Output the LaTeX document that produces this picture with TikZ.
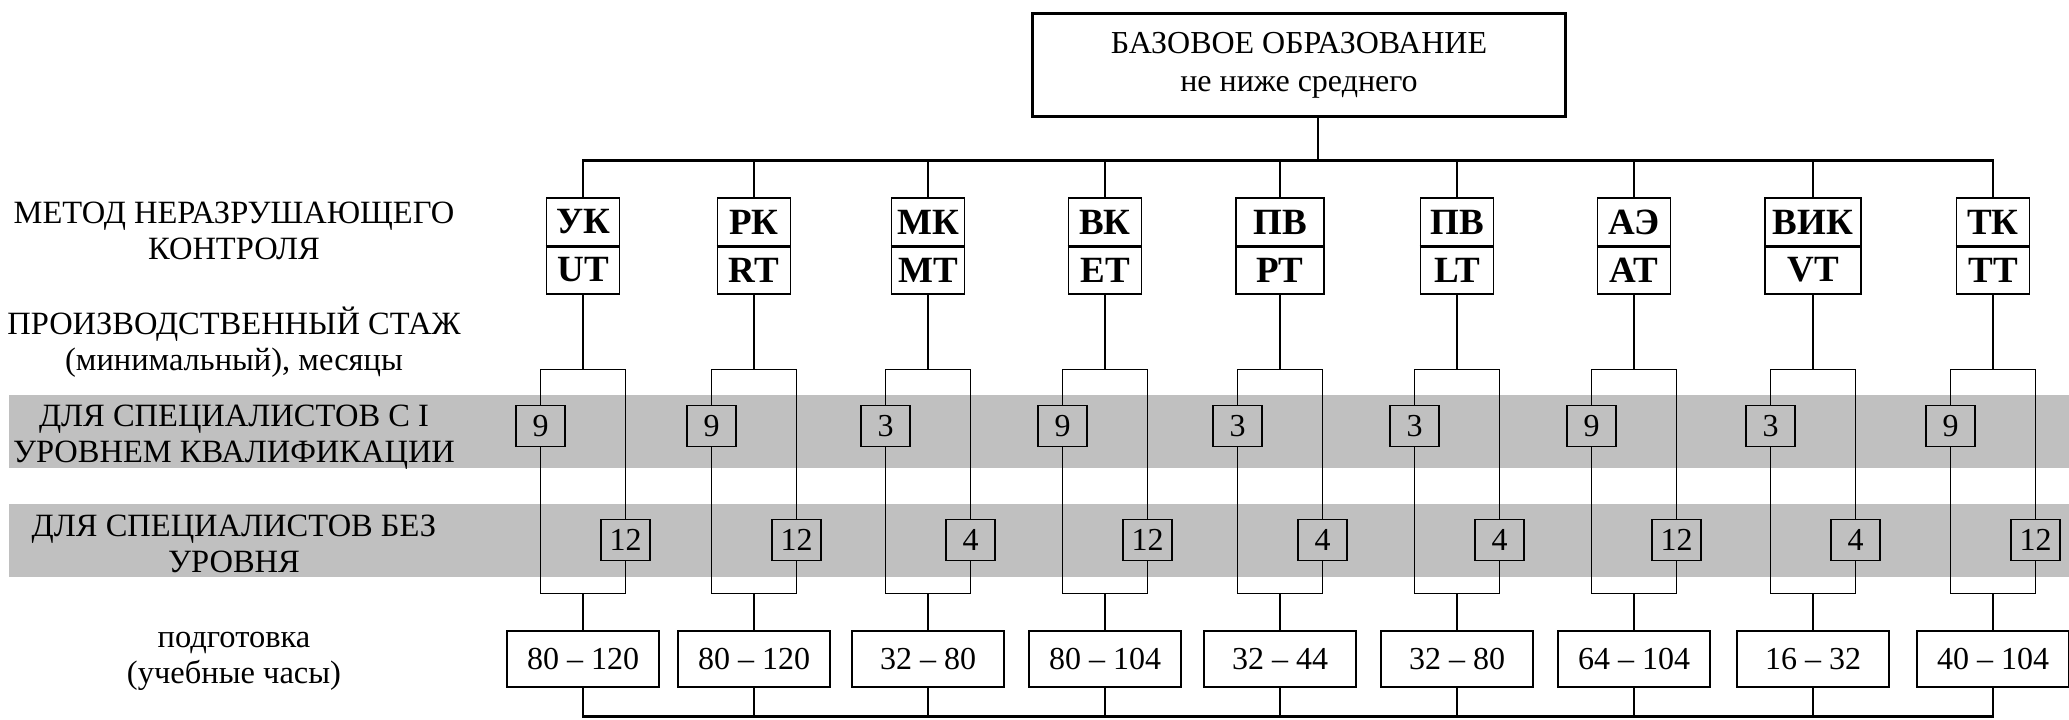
\documentclass[tikz,border=0pt]{standalone}
\usepackage{fontspec}
\setmainfont{Liberation Serif}
\definecolor{bandgray}{RGB}{192,192,192}
\tikzset{
  lbl/.style={align=center,anchor=base,font=\fontsize{32.5}{36}\selectfont},
  edubox/.style={draw,line width=2.4pt,minimum width=533pt,minimum height=103pt,align=center,font=\fontsize{32}{38}\selectfont},
  cell/.style={draw,line width=1.6pt,minimum height=48pt,inner sep=0pt,font=\fontsize{37}{40}\selectfont\bfseries},
  num/.style={draw,line width=1.3pt,minimum width=49pt,minimum height=41.5pt,inner sep=0pt,font=\fontsize{32}{34}\selectfont},
  hrs/.style={draw,line width=1.6pt,minimum width=152pt,minimum height=56pt,inner sep=0pt,font=\fontsize{32}{34}\selectfont},
  wire/.style={line width=1.3pt},
  trunk/.style={line width=2.6pt}
}
\begin{document}
\begin{tikzpicture}[x=1pt,y=-1pt]
  \useasboundingbox (0,0) rectangle (2069,720);
  \fill[bandgray] (9,395) rectangle (2069,467.7);
  \fill[bandgray] (9,504) rectangle (2069,576.7);
  \draw
    (234,259) node[lbl] (lmet){МЕТОД НЕРАЗРУШАЮЩЕГО\\КОНТРОЛЯ}
    (234,370) node[lbl] (lexp){ПРОИЗВОДСТВЕННЫЙ СТАЖ\\(минимальный), месяцы}
    (234,462) node[lbl] (llvl){ДЛЯ СПЕЦИАЛИСТОВ С I\\УРОВНЕМ КВАЛИФИКАЦИИ}
    (234,572) node[lbl] (lnolvl){ДЛЯ СПЕЦИАЛИСТОВ БЕЗ\\УРОВНЯ}
    (234,683) node[lbl] (lhrs){подготовка\\(учебные часы)}
    (1299,65) node[edubox] (edu){БАЗОВОЕ ОБРАЗОВАНИЕ\\не ниже среднего};
  \coordinate (tl) at (583,160.7);
  \coordinate (tr) at (1993,160.7);
  \coordinate (bl) at (583,716.7);
  \coordinate (br) at (1993,716.7);
  \foreach \i/\x/\w/\ru/\en/\p/\q/\h in {
      1/583/73/УК/UT/9/12/80 -- 120,
      2/754/73/РК/RT/9/12/80 -- 120,
      3/928/73/МК/MT/3/4/32 -- 80,
      4/1105/73/ВК/ET/9/12/80 -- 104,
      5/1280/88/ПВ/PT/3/4/32 -- 44,
      6/1457/73/ПВ/LT/3/4/32 -- 80,
      7/1634/73/АЭ/AT/9/12/64 -- 104,
      8/1813/96/ВИК/VT/3/4/16 -- 32,
      9/1993/73/ТК/TT/9/12/40 -- 104}{
    \node[cell,minimum width=\w] (ru\i) at (\x,222) {\ru};
    \node[cell,minimum width=\w] (en\i) at (\x,270) {\en};
    \draw[line width=2.8pt] (ru\i.south west) -- (ru\i.south east);
    \node[num] (lvl\i) at (\x-42.5,426) {\p};
    \node[num] (nolvl\i) at (\x+42.5,540) {\q};
    \node[hrs] (hrs\i) at (\x,658.7) {\h};
    \coordinate (top\i) at (\x,369.3);
    \coordinate (bot\i) at (\x,593.3);
    \begin{scope}[wire]
      \draw (ru\i.north) to (ru\i.north |- tl);
      \draw (en\i.south) to (top\i);
      \draw (lvl\i.north) |- (top\i) -| (nolvl\i.north);
      \draw (lvl\i.south) |- (bot\i) -| (nolvl\i.south);
      \draw (bot\i) to (hrs\i.north);
      \draw (hrs\i.south) to (hrs\i.south |- bl);
    \end{scope}
  }
  \draw[wire] ([xshift=19pt]edu.south) to ([xshift=19pt]edu.south |- tl);
  \begin{scope}[trunk]
    \draw (ru1.north) -- (tl) -- (tr) -- (ru9.north);
    \draw (hrs1.south) -- (bl) -- (br) -- (hrs9.south);
    \draw (en1.south) to (top1) (bot1) to (hrs1.north);
    \draw (en9.south) to (top9) (bot9) to (hrs9.north);
  \end{scope}
\end{tikzpicture}
\end{document}
